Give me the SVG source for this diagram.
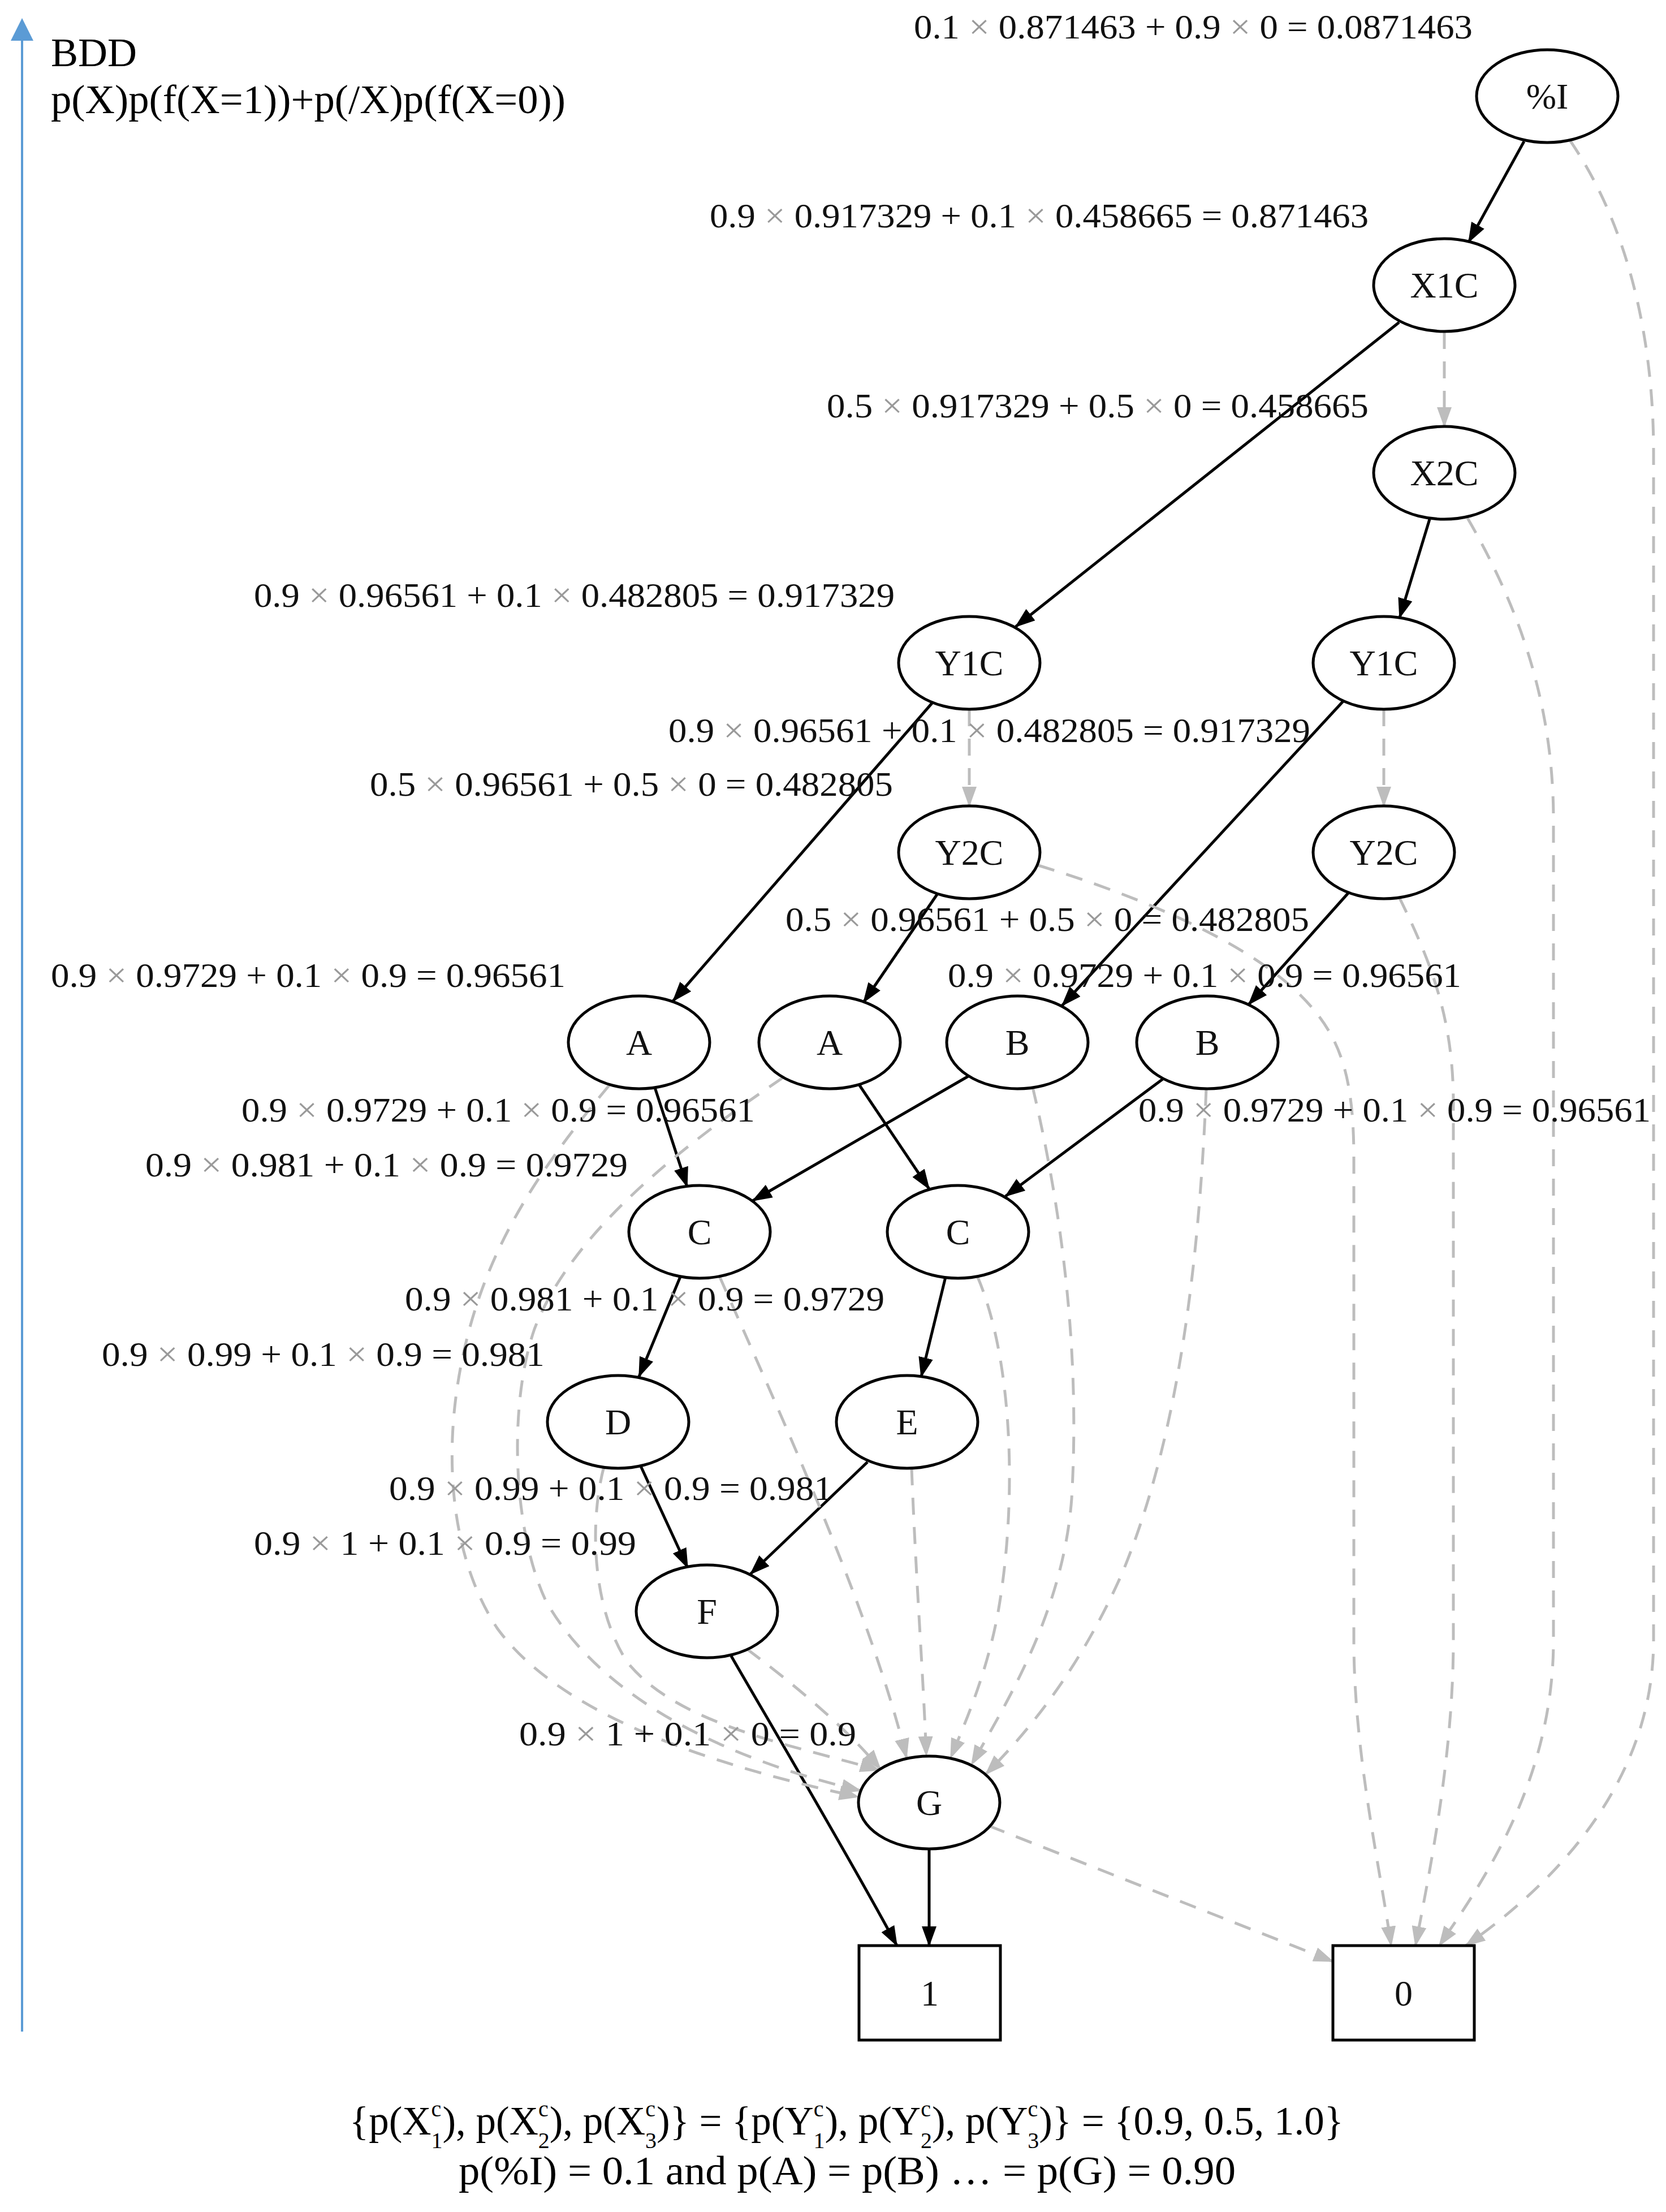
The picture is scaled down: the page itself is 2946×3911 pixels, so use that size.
<svg xmlns="http://www.w3.org/2000/svg" width="2946" height="3911" viewBox="0 0 2946 3911">
<style>
.n{fill:#fff;stroke:#000;stroke-width:5}
.nl{font-family:"Liberation Serif",serif;font-size:64px;text-anchor:middle;fill:#111}
.el{font-family:"Liberation Serif",serif;font-size:62px;fill:#111}
.x{fill:#9a9a9a}
.s{fill:none;stroke:#000;stroke-width:5;marker-end:url(#ab)}
.d{fill:none;stroke:#bdbdbd;stroke-width:5;stroke-dasharray:30 22;marker-end:url(#ag)}
.hd{font-family:"Liberation Serif",serif;font-size:72px;fill:#000}
.bt{font-family:"Liberation Serif",serif;font-size:71px;fill:#000}
.ss{font-size:40px}
</style>
<defs>
<marker id="ab" markerUnits="userSpaceOnUse" markerWidth="36" markerHeight="26" viewBox="0 0 36 26" refX="34" refY="13" orient="auto"><path d="M0,0 L36,13 L0,26 Z" fill="#000"/></marker>
<marker id="ag" markerUnits="userSpaceOnUse" markerWidth="36" markerHeight="26" viewBox="0 0 36 26" refX="34" refY="13" orient="auto"><path d="M0,0 L36,13 L0,26 Z" fill="#bdbdbd"/></marker>
</defs>
<rect width="2946" height="3911" fill="#fff"/>

<g id="axis">
<line x1="39" y1="70" x2="39" y2="3592" stroke="#5B9BD5" stroke-width="4"/>
<polygon points="39,32 19,72 59,72" fill="#5B9BD5"/>
</g>
<g id="header">
<text class="hd" x="90" y="117">BDD</text>
<text class="hd" x="90" y="200" textLength="910" lengthAdjust="spacingAndGlyphs">p(X)p(f(X=1))+p(/X)p(f(X=0))</text>
</g>

<g id="connectors">
<path class="s" d="M2695,250 L2597,428"/>
<path class="s" d="M2474,570 L1796,1108"/>
<path class="d" d="M2554,587 L2554,754"/>
<path class="s" d="M2528,918 L2475,1092"/>
<path class="d" d="M1714,1254 L1714,1425"/>
<path class="d" d="M2447,1254 L2447,1425"/>
<path class="s" d="M1650,1241 L1190,1770"/>
<path class="s" d="M2375,1240 L1878,1778"/>
<path class="s" d="M1658,1580 L1527,1772"/>
<path class="s" d="M2385,1578 L2208,1776"/>
<path class="s" d="M1158,1923 L1215,2098"/>
<path class="s" d="M1712,1903 L1331,2123"/>
<path class="s" d="M1520,1919 L1643,2102"/>
<path class="s" d="M2056,1908 L1778,2115"/>
<path class="s" d="M1204,2255 L1130,2434"/>
<path class="s" d="M1672,2258 L1629,2434"/>
<path class="s" d="M1132,2590 L1216,2772"/>
<path class="s" d="M1534,2585 L1327,2783"/>
<path class="s" d="M1293,2928 C1340,3010 1500,3280 1586,3440"/>
<path class="s" d="M1643,3269 L1643,3440"/>
<path class="d" d="M2776,248 C2880,400 2924,600 2924,800 L2924,2900 C2924,3150 2750,3330 2592,3440"/>
<path class="d" d="M2595,916 C2690,1080 2747,1250 2747,1450 L2747,2900 C2747,3150 2620,3330 2545,3440"/>
<path class="d" d="M2474,1586 C2530,1700 2570,1800 2570,1950 L2570,2900 C2570,3100 2530,3300 2503,3440"/>
<path class="d" d="M1836,1530 C2000,1580 2200,1660 2300,1760 C2370,1830 2394,1900 2394,2050 L2394,2900 C2394,3100 2440,3300 2460,3440"/>
<path class="d" d="M1748,3228 L2357,3468"/>
<path class="d" d="M1078,1918 C960,2060 860,2200 818,2400 C780,2580 800,2760 880,2880 C990,3030 1250,3120 1518,3177"/>
<path class="d" d="M1385,1905 C1200,2030 1010,2180 945,2350 C900,2480 905,2700 965,2830 C1060,3000 1280,3110 1522,3166"/>
<path class="d" d="M1068,2593 C1040,2700 1050,2850 1110,2940 C1200,3050 1400,3085 1555,3130"/>
<path class="d" d="M1320,2915 C1420,2990 1500,3060 1557,3128"/>
<path class="d" d="M1272,2256 C1380,2500 1540,2850 1603,3108"/>
<path class="d" d="M1612,2596 C1620,2800 1632,2950 1638,3104"/>
<path class="d" d="M1728,2256 C1790,2400 1800,2650 1765,2850 C1745,2960 1705,3050 1681,3108"/>
<path class="d" d="M1826,1922 C1880,2150 1910,2400 1895,2650 C1880,2850 1780,3010 1718,3120"/>
<path class="d" d="M2133,1925 C2120,2250 2080,2550 1985,2780 C1910,2950 1820,3060 1743,3137"/>
</g>

<g id="edge-labels">
<text class="el" x="1616" y="68" textLength="988" lengthAdjust="spacingAndGlyphs">0.1 <tspan class="x">×</tspan> 0.871463 + 0.9 <tspan class="x">×</tspan> 0 = 0.0871463</text>
<text class="el" x="1255" y="402" textLength="1165" lengthAdjust="spacingAndGlyphs">0.9 <tspan class="x">×</tspan> 0.917329 + 0.1 <tspan class="x">×</tspan> 0.458665 = 0.871463</text>
<text class="el" x="1462" y="738" textLength="958" lengthAdjust="spacingAndGlyphs">0.5 <tspan class="x">×</tspan> 0.917329 + 0.5 <tspan class="x">×</tspan> 0 = 0.458665</text>
<text class="el" x="449" y="1073" textLength="1133" lengthAdjust="spacingAndGlyphs">0.9 <tspan class="x">×</tspan> 0.96561 + 0.1 <tspan class="x">×</tspan> 0.482805 = 0.917329</text>
<text class="el" x="1182" y="1312" textLength="1135" lengthAdjust="spacingAndGlyphs">0.9 <tspan class="x">×</tspan> 0.96561 + 0.1 <tspan class="x">×</tspan> 0.482805 = 0.917329</text>
<text class="el" x="654" y="1407" textLength="925" lengthAdjust="spacingAndGlyphs">0.5 <tspan class="x">×</tspan> 0.96561 + 0.5 <tspan class="x">×</tspan> 0 = 0.482805</text>
<text class="el" x="1389" y="1646" textLength="926" lengthAdjust="spacingAndGlyphs">0.5 <tspan class="x">×</tspan> 0.96561 + 0.5 <tspan class="x">×</tspan> 0 = 0.482805</text>
<text class="el" x="90" y="1745" textLength="910" lengthAdjust="spacingAndGlyphs">0.9 <tspan class="x">×</tspan> 0.9729 + 0.1 <tspan class="x">×</tspan> 0.9 = 0.96561</text>
<text class="el" x="1676" y="1745" textLength="908" lengthAdjust="spacingAndGlyphs">0.9 <tspan class="x">×</tspan> 0.9729 + 0.1 <tspan class="x">×</tspan> 0.9 = 0.96561</text>
<text class="el" x="427" y="1983" textLength="908" lengthAdjust="spacingAndGlyphs">0.9 <tspan class="x">×</tspan> 0.9729 + 0.1 <tspan class="x">×</tspan> 0.9 = 0.96561</text>
<text class="el" x="2013" y="1983" textLength="906" lengthAdjust="spacingAndGlyphs">0.9 <tspan class="x">×</tspan> 0.9729 + 0.1 <tspan class="x">×</tspan> 0.9 = 0.96561</text>
<text class="el" x="257" y="2080" textLength="853" lengthAdjust="spacingAndGlyphs">0.9 <tspan class="x">×</tspan> 0.981 + 0.1 <tspan class="x">×</tspan> 0.9 = 0.9729</text>
<text class="el" x="716" y="2317" textLength="848" lengthAdjust="spacingAndGlyphs">0.9 <tspan class="x">×</tspan> 0.981 + 0.1 <tspan class="x">×</tspan> 0.9 = 0.9729</text>
<text class="el" x="180" y="2415" textLength="783" lengthAdjust="spacingAndGlyphs">0.9 <tspan class="x">×</tspan> 0.99 + 0.1 <tspan class="x">×</tspan> 0.9 = 0.981</text>
<text class="el" x="688" y="2652" textLength="784" lengthAdjust="spacingAndGlyphs">0.9 <tspan class="x">×</tspan> 0.99 + 0.1 <tspan class="x">×</tspan> 0.9 = 0.981</text>
<text class="el" x="449" y="2749" textLength="676" lengthAdjust="spacingAndGlyphs">0.9 <tspan class="x">×</tspan> 1 + 0.1 <tspan class="x">×</tspan> 0.9 = 0.99</text>
<text class="el" x="918" y="3086" textLength="596" lengthAdjust="spacingAndGlyphs">0.9 <tspan class="x">×</tspan> 1 + 0.1 <tspan class="x">×</tspan> 0 = 0.9</text>
</g>

<g id="node-I"><ellipse class="n" cx="2736" cy="170" rx="125" ry="82"/><text class="nl" x="2736" y="192">%I</text></g>
<g id="node-X1C"><ellipse class="n" cx="2554" cy="504" rx="125" ry="82"/><text class="nl" x="2554" y="526">X1C</text></g>
<g id="node-X2C"><ellipse class="n" cx="2554" cy="836" rx="125" ry="82"/><text class="nl" x="2554" y="858">X2C</text></g>
<g id="node-Y1C-L"><ellipse class="n" cx="1714" cy="1172" rx="125" ry="82"/><text class="nl" x="1714" y="1194">Y1C</text></g>
<g id="node-Y1C-R"><ellipse class="n" cx="2447" cy="1172" rx="125" ry="82"/><text class="nl" x="2447" y="1194">Y1C</text></g>
<g id="node-Y2C-L"><ellipse class="n" cx="1714" cy="1507" rx="125" ry="82"/><text class="nl" x="1714" y="1529">Y2C</text></g>
<g id="node-Y2C-R"><ellipse class="n" cx="2447" cy="1507" rx="125" ry="82"/><text class="nl" x="2447" y="1529">Y2C</text></g>
<g id="node-A1"><ellipse class="n" cx="1130" cy="1843" rx="125" ry="82"/><text class="nl" x="1130" y="1865">A</text></g>
<g id="node-A2"><ellipse class="n" cx="1467" cy="1843" rx="125" ry="82"/><text class="nl" x="1467" y="1865">A</text></g>
<g id="node-B1"><ellipse class="n" cx="1799" cy="1843" rx="125" ry="82"/><text class="nl" x="1799" y="1865">B</text></g>
<g id="node-B2"><ellipse class="n" cx="2135" cy="1843" rx="125" ry="82"/><text class="nl" x="2135" y="1865">B</text></g>
<g id="node-C1"><ellipse class="n" cx="1237" cy="2178" rx="125" ry="82"/><text class="nl" x="1237" y="2200">C</text></g>
<g id="node-C2"><ellipse class="n" cx="1694" cy="2178" rx="125" ry="82"/><text class="nl" x="1694" y="2200">C</text></g>
<g id="node-D"><ellipse class="n" cx="1093" cy="2514" rx="125" ry="82"/><text class="nl" x="1093" y="2536">D</text></g>
<g id="node-E"><ellipse class="n" cx="1604" cy="2514" rx="125" ry="82"/><text class="nl" x="1604" y="2536">E</text></g>
<g id="node-F"><ellipse class="n" cx="1250" cy="2849" rx="125" ry="82"/><text class="nl" x="1250" y="2871">F</text></g>
<g id="node-G"><ellipse class="n" cx="1643" cy="3187" rx="125" ry="82"/><text class="nl" x="1643" y="3209">G</text></g>
<g id="node-1"><rect class="n" x="1519" y="3440" width="250" height="167"/><text class="nl" x="1644" y="3546">1</text></g>
<g id="node-0"><rect class="n" x="2357" y="3440" width="250" height="167"/><text class="nl" x="2482" y="3546">0</text></g>

<g id="footer">
<text class="bt" x="1497" y="3774" text-anchor="middle">{p(X<tspan class="ss" dy="-32">c</tspan><tspan class="ss" dx="-18" dy="56">1</tspan><tspan dy="-24">), p(X</tspan><tspan class="ss" dy="-32">c</tspan><tspan class="ss" dx="-18" dy="56">2</tspan><tspan dy="-24">), p(X</tspan><tspan class="ss" dy="-32">c</tspan><tspan class="ss" dx="-18" dy="56">3</tspan><tspan dy="-24">)} = {p(Y</tspan><tspan class="ss" dy="-32">c</tspan><tspan class="ss" dx="-18" dy="56">1</tspan><tspan dy="-24">), p(Y</tspan><tspan class="ss" dy="-32">c</tspan><tspan class="ss" dx="-18" dy="56">2</tspan><tspan dy="-24">), p(Y</tspan><tspan class="ss" dy="-32">c</tspan><tspan class="ss" dx="-18" dy="56">3</tspan><tspan dy="-24">)} = {0.9, 0.5, 1.0}</tspan></text>
<text class="bt" x="1498" y="3862" text-anchor="middle" textLength="1374" lengthAdjust="spacingAndGlyphs">p(%I) = 0.1 and p(A) = p(B) … = p(G) = 0.90</text>
</g>
</svg>
